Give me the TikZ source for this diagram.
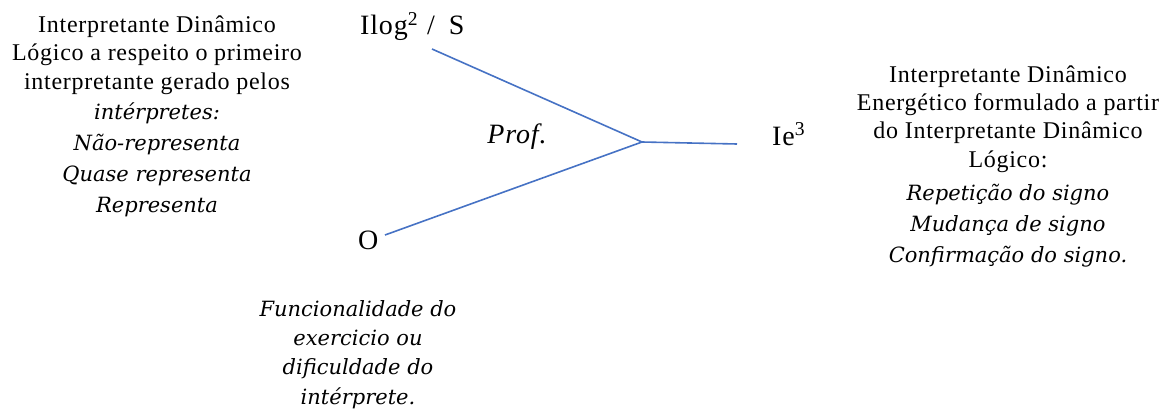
\documentclass[tikz,border=0pt]{standalone}
\usepackage{fontspec}
\setmainfont{Liberation Serif}[LetterSpace=3]
\newfontfamily\geo{DejaVu Serif}
\definecolor{linkblue}{HTML}{4672C4}
\begin{document}
\begin{tikzpicture}[x=1pt,y=-1pt,
  rom/.style={font=\fontsize{24}{28.2}\selectfont, inner sep=0pt, align=center, anchor=base},
  ita/.style={font=\geo\itshape\fontsize{21}{31}\selectfont, inner sep=0pt, align=center, anchor=base},
  lbl/.style={font=\fontsize{28}{30}\selectfont, inner sep=0pt, anchor=base},
  link/.style={draw=linkblue, line width=1.6pt}]
\useasboundingbox (0,0) rectangle (1163,412);

% left block (anchor = baseline of last line)
\node[rom] (leftA) at (157,89) {Interpretante Dinâmico\\Lógico a respeito o primeiro\\interpretante gerado pelos};
\node[ita] (leftB) at (157,212) {intérpretes:\\Não-representa\\Quase representa\\Representa};

% right block
\node[rom] (rightA) at (1008,167) {Interpretante Dinâmico\\Energético formulado a partir\\do Interpretante Dinâmico\\Lógico:};
\node[ita] (rightB) at (1008,262) {Repetição do signo\\Mudança de signo\\Confirmação do signo.};

% bottom block
\node[ita, font=\geo\itshape\fontsize{21}{29.3}\selectfont] (bottom) at (358,404) {Funcionalidade do\\exercicio ou\\dificuldade do\\intérprete.};

% vertex labels
\node[lbl, anchor=base west] (ilog) at (360,35) {Ilog\textsuperscript{2}\hspace{9pt}/\hspace{14pt}S};
\node[lbl, anchor=base west] (ie) at (772,145) {Ie\textsuperscript{3}};
\node[lbl, anchor=base west] (o) at (358,249) {O};
\node[lbl, font=\itshape\fontsize{28}{30}\selectfont] (prof) at (517,143) {Prof.};

% connectors
\coordinate (j) at (642,142);
\coordinate (ilogend) at (432,49);
\coordinate (oend) at (385,235);
\coordinate (ieend) at (737,144);
\draw[link] (ilogend) -- (j);
\draw[link] (oend) -- (j);
\draw[link] (j) -- (ieend);
\end{tikzpicture}
\end{document}
